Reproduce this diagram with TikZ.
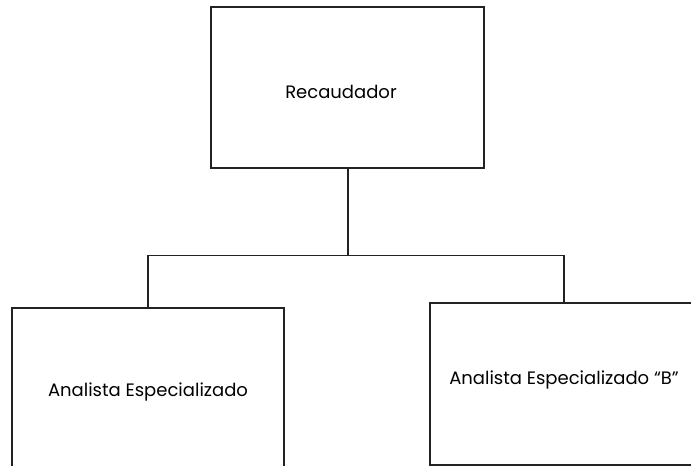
\documentclass[tikz,border=0pt]{standalone}
\usepackage{fontspec}
\setmainfont{Poppins}
\usepackage{xcolor}
\usepackage{tikz}
\usetikzlibrary{positioning,calc}
\definecolor{linegray}{HTML}{222222}

\begin{document}
\begin{tikzpicture}[x=1pt,y=-1pt,font=\fontsize{18}{22}\selectfont,
  post/.style={draw=linegray,line width=1.3pt,fill=white,inner sep=0pt,text depth=0pt},
  link/.style={draw=linegray,line width=1.3pt}]
\useasboundingbox (0,0) rectangle (691,466);
\clip (0,0) rectangle (691,466);
% head of the chart
\node[post,minimum width=273pt,minimum height=161pt,text height=22pt] (rec) at (347.5,87.5) {Recaudador\kern13pt};
% the two analysts
\node[post,minimum width=272pt,minimum height=172pt,text height=5pt] (anaA) at (148,394) {Analista Especializado};
\node[post,minimum width=268pt,minimum height=162pt,text height=0pt] (anaB) at (564,384) {Analista Especializado ``B''};
% branching
\coordinate (split) at ($(rec.south)+(0,87)$);
\draw[link,line width=2pt] (rec.south) -- (split);
\draw[link] (anaA.north) |- (split) -| (anaB.north);
\end{tikzpicture}
\end{document}
